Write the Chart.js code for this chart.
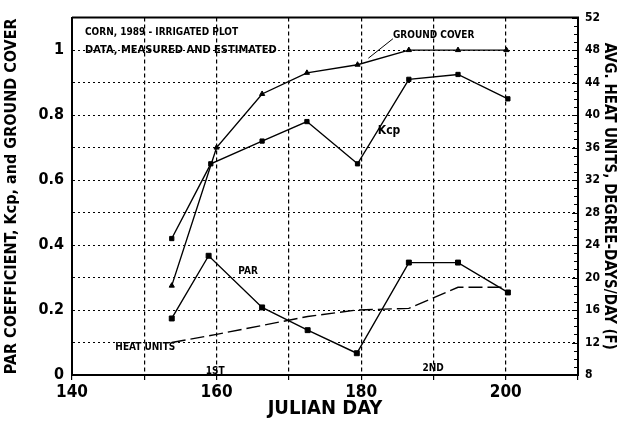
<!DOCTYPE html>
<html>
<head>
<meta charset="utf-8">
<style>
  html, body { margin: 0; padding: 0; background: #fff; }
</style>
<script src="https://cdn.jsdelivr.net/npm/chart.js@4"></script>
</head>
<body>
<canvas id="chart" width="618" height="435"></canvas>
<script>
// values
const gcDays = [153.8, 160, 166.3, 172.5, 179.5, 186.6, 193.4, 200.1];
const groundCover = [0.275, 0.70, 0.865, 0.93, 0.955, 1.0, 1.0, 1.0];

const kcpDays = [153.8, 159.2, 166.3, 172.5, 179.5, 186.6, 193.4, 200.3];
const kcp = [0.42, 0.65, 0.72, 0.78, 0.65, 0.91, 0.925, 0.85];

const parDays = [153.8, 158.9, 166.3, 172.6, 179.4, 186.6, 193.4, 200.3];
const parCoef = [0.174, 0.367, 0.208, 0.138, 0.067, 0.346, 0.346, 0.254];

const huDays = [153.8, 160, 166.3, 172.6, 179.4, 186.6, 193.4, 200];
const heatUnits = [12.0, 13.0, 14.1, 15.2, 16.0, 16.2, 18.8, 18.8];

const xLabels = [140, 160, 180, 200];
const leftLabels = [0, 0.2, 0.4, 0.6, 0.8, 1];

const FONT = "'Liberation Sans Narrow', 'DejaVu Sans Condensed', 'Liberation Sans', sans-serif";

const pts = (xs, ys) => xs.map((x, i) => ({ x: x, y: ys[i] }));

// box border, inward minor ticks on right axis, and the in-plot labels
const extras = {
  id: 'extras',
  afterDraw(chart) {
    const { ctx, chartArea: a, scales } = chart;
    const x = scales.x, y = scales.y, y2 = scales.y2;
    ctx.save();
    ctx.strokeStyle = '#000';
    ctx.lineWidth = 2;
    ctx.beginPath();
    ctx.moveTo(a.left, a.top);
    ctx.lineTo(a.right, a.top);
    ctx.lineTo(a.right, a.bottom);
    ctx.stroke();

    ctx.lineWidth = 1;
    for (let v = 8; v <= 52; v++) {
      const py = Math.round(y2.getPixelForValue(v)) + 0.5;
      const len = (v % 4 === 0) ? 6 : 4;
      ctx.beginPath();
      ctx.moveTo(a.right - len, py);
      ctx.lineTo(a.right, py);
      ctx.stroke();
    }

    ctx.fillStyle = '#000';
    ctx.textBaseline = 'middle';
    ctx.textAlign = 'left';
    ctx.font = 'bold 10px ' + FONT;
    ctx.fillText('CORN, 1989 - IRRIGATED PLOT', x.getPixelForValue(141.8), y.getPixelForValue(1.055));
    ctx.font = 'bold 11px ' + FONT;
    ctx.fillText('DATA, MEASURED AND ESTIMATED', x.getPixelForValue(141.8), y.getPixelForValue(1.0));

    ctx.font = 'bold 10px ' + FONT;
    ctx.fillText('GROUND COVER', x.getPixelForValue(184.4), y.getPixelForValue(1.045));
    ctx.beginPath();
    ctx.moveTo(x.getPixelForValue(184.4), y.getPixelForValue(1.035));
    ctx.lineTo(x.getPixelForValue(181), y.getPixelForValue(0.975));
    ctx.stroke();

    ctx.font = 'bold 12px ' + FONT;
    ctx.fillText('Kcp', x.getPixelForValue(182.3), y.getPixelForValue(0.75));
    ctx.font = 'bold 10px ' + FONT;
    ctx.fillText('PAR', x.getPixelForValue(163), y.getPixelForValue(0.32));
    ctx.fillText('HEAT UNITS', x.getPixelForValue(146), y.getPixelForValue(0.085));
    ctx.fillText('1ST', x.getPixelForValue(158.5), y.getPixelForValue(0.012));
    ctx.fillText('2ND', x.getPixelForValue(188.5), y.getPixelForValue(0.02));
    ctx.restore();
  }
};

const line = (label, data, style, radius, axis, dash) => ({
  label: label,
  data: data,
  yAxisID: axis,
  borderColor: '#000',
  backgroundColor: '#000',
  borderWidth: 1.4,
  borderDash: dash || [],
  pointStyle: style,
  pointRadius: radius,
  pointBorderWidth: 1,
  tension: 0,
  fill: false
});

new Chart(document.getElementById('chart'), {
  type: 'line',
  data: {
    datasets: [
      line('Ground cover', pts(gcDays, groundCover), 'triangle', 3, 'y'),
      line('Kcp', pts(kcpDays, kcp), 'rect', 3, 'y'),
      line('PAR coefficient', pts(parDays, parCoef), 'rect', 3.5, 'y'),
      line('Heat units', pts(huDays, heatUnits), false, 0, 'y2', [14, 5])
    ]
  },
  options: {
    responsive: false,
    animation: false,
    layout: { padding: { top: 15, left: 0, right: 0, bottom: 14 } },
    plugins: { legend: { display: false }, tooltip: { enabled: false } },
    scales: {
      x: {
        type: 'linear',
        min: 140,
        max: 210,
        afterFit: s => { s.height = 46; },
        ticks: {
          stepSize: 10,
          autoSkip: false,
          maxRotation: 0,
          color: '#000',
          font: { family: FONT, size: 17, weight: 'bold' },
          padding: 2,
          callback: v => xLabels.includes(v) ? String(v) : ''
        },
        grid: { color: '#000', lineWidth: 1.2, tickLength: 5, tickColor: '#000' },
        border: { display: true, color: '#000', width: 2, dash: [4, 3] },
        title: {
          display: true,
          text: 'JULIAN DAY',
          color: '#000',
          font: { family: FONT, size: 20, weight: 'bold' },
          padding: { top: 0, bottom: 0 }
        }
      },
      y: {
        position: 'left',
        min: 0,
        max: 1.1,
        afterFit: s => { s.width = 72; },
        ticks: {
          stepSize: 0.1,
          autoSkip: false,
          color: '#000',
          font: { family: FONT, size: 16, weight: 'bold' },
          padding: 8,
          callback: v => {
            const r = Math.round(v * 10) / 10;
            return leftLabels.includes(r) ? String(r) : '';
          }
        },
        grid: { color: '#000', lineWidth: 1, drawTicks: false },
        border: { display: true, color: '#000', width: 2, dash: [2, 3] },
        title: {
          display: true,
          text: 'PAR COEFFICIENT, Kcp, and GROUND COVER',
          color: '#000',
          font: { family: FONT, size: 16, weight: 'bold' },
          padding: { top: 2, bottom: 0 }
        }
      },
      y2: {
        position: 'right',
        min: 8,
        max: 52,
        afterFit: s => { s.width = 40; },
        ticks: {
          stepSize: 4,
          autoSkip: false,
          color: '#000',
          font: { family: FONT, size: 12, weight: 'bold' },
          padding: 7
        },
        grid: { display: false, drawOnChartArea: false, drawTicks: false },
        border: { display: true, color: '#000', width: 2 },
        title: {
          display: true,
          text: 'AVG. HEAT UNITS, DEGREE-DAYS/DAY (F)',
          color: '#000',
          font: { family: FONT, size: 15, weight: 'bold' },
          padding: { top: 0, bottom: 0 }
        }
      }
    }
  },
  plugins: [extras]
});
</script>
</body>
</html>
